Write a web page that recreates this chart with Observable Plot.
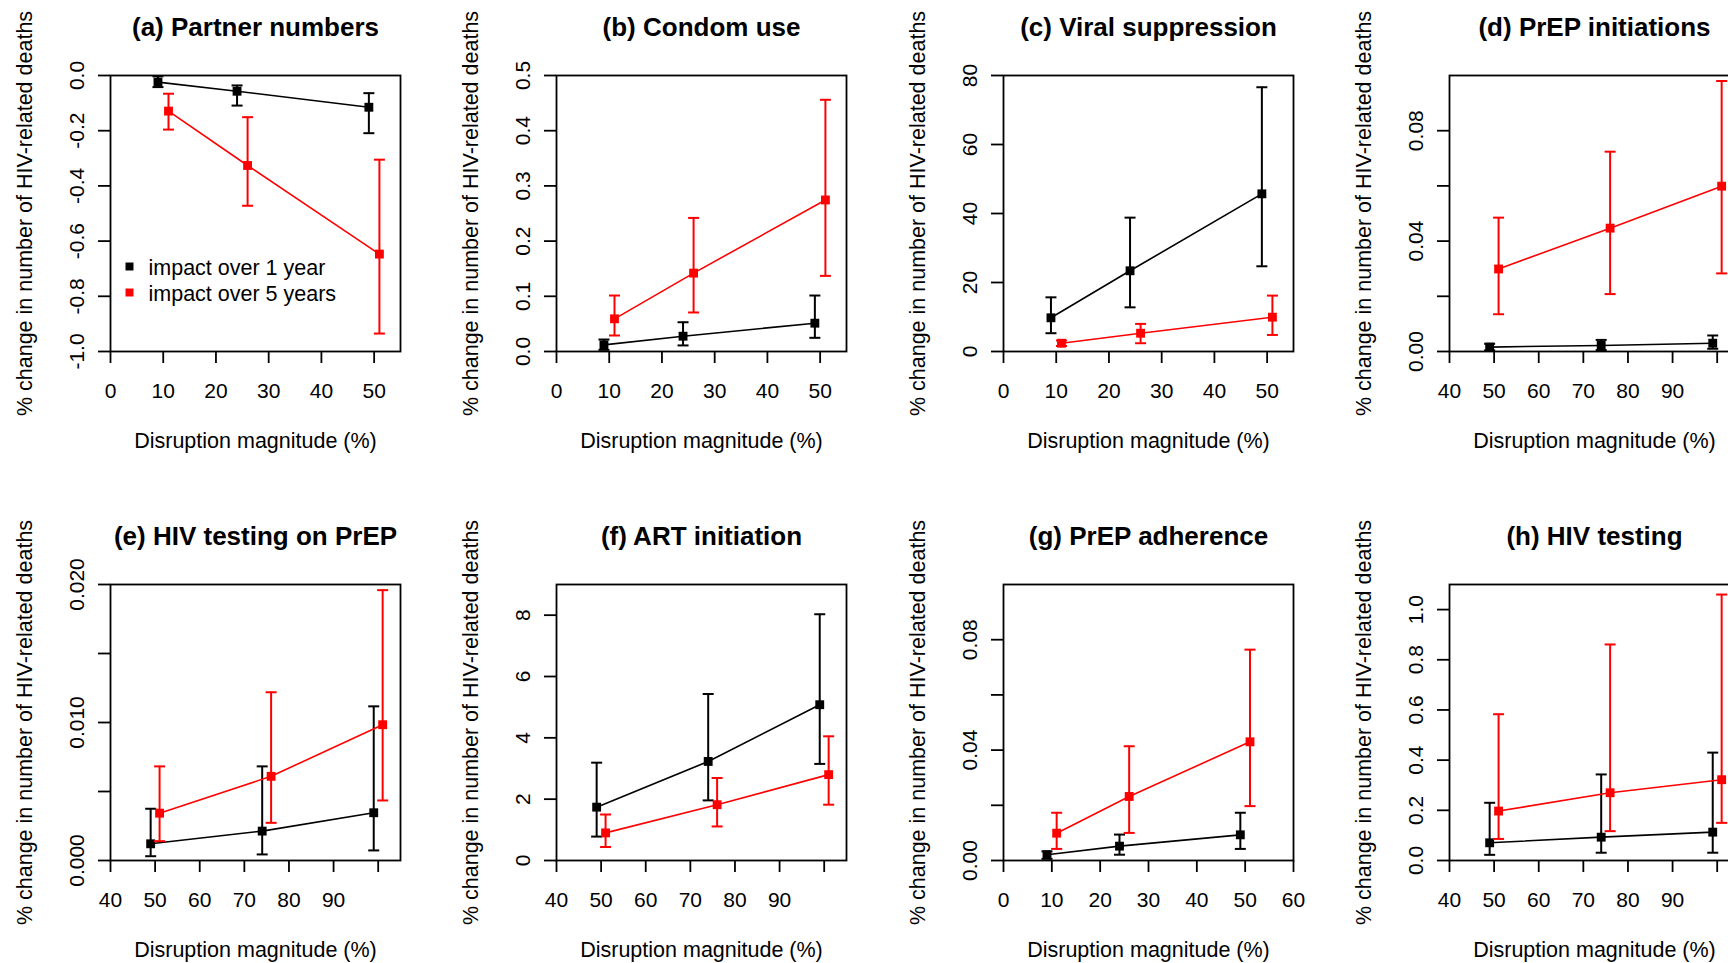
<!DOCTYPE html>
<html><head><meta charset="utf-8">
<script src="https://cdn.jsdelivr.net/npm/d3@7"></script>
<script src="https://cdn.jsdelivr.net/npm/@observablehq/plot@0.6"></script>
<style>
html,body{margin:0;padding:0;background:#fff;overflow:hidden;}
#wrap{position:relative;width:1728px;height:963px;overflow:hidden;background:#fff;}
.panel{position:absolute;width:446px;height:508px;}
</style></head><body><div id="wrap"></div>
<script>
// ---- data (mean, lower, upper) for impact over 1 year / 5 years ----
const titles = ["(a) Partner numbers","(b) Condom use","(c) Viral suppression","(d) PrEP initiations",
                "(e) HIV testing on PrEP","(f) ART initiation","(g) PrEP adherence","(h) HIV testing"];
const seriesNames = ["impact over 1 year","impact over 5 years"];
const xLabelText = "Disruption magnitude (%)";
const yLabelText = "% change in number of HIV-related deaths";

const xLow1yr = [9,24,49], xLow5yr = [11,26,51];
const xHigh1yr = [49,74,99], xHigh5yr = [51,76,101];

const a1yr = [[-0.024,-0.042,-0.003],[-0.057,-0.109,-0.036],[-0.115,-0.209,-0.064]];
const a5yr = [[-0.129,-0.196,-0.066],[-0.326,-0.472,-0.151],[-0.647,-0.935,-0.305]];
const b1yr = [[0.012,0.003,0.0217],[0.0277,0.011,0.053],[0.0513,0.0248,0.1014]];
const b5yr = [[0.0592,0.029,0.1014],[0.142,0.0707,0.242],[0.2745,0.137,0.456]];
const c1yr = [[9.77,5.3,15.7],[23.4,12.8,38.8],[45.7,24.7,76.6]];
const c5yr = [[2.4,1.6,3.2],[5.3,2.4,8.0],[9.95,4.8,16.2]];
const d1yr = [[0.0016,0.0004,0.0028],[0.0022,0.0005,0.0042],[0.003,0.001,0.0058]];
const d5yr = [[0.0299,0.0135,0.0485],[0.0447,0.0208,0.0724],[0.0599,0.0283,0.098]];
const e1yr = [[0.00121,0.00031,0.00375],[0.00213,0.00044,0.00682],[0.00346,0.00073,0.01117]];
const e5yr = [[0.00343,0.0014,0.00682],[0.0061,0.00273,0.01219],[0.00984,0.00435,0.01959]];
const f1yr = [[1.74,0.78,3.19],[3.23,1.96,5.43],[5.08,3.15,8.03]];
const f5yr = [[0.90,0.44,1.50],[1.82,1.11,2.69],[2.80,1.82,4.05]];
const g1yr = [[0.0021,0.0006,0.0033],[0.0052,0.0021,0.0094],[0.0093,0.0042,0.0173]];
const g5yr = [[0.0099,0.0042,0.0173],[0.0232,0.0100,0.0414],[0.0430,0.0197,0.0764]];
const h1yr = [[0.0705,0.0226,0.23],[0.093,0.031,0.343],[0.113,0.031,0.43]];
const h5yr = [[0.197,0.086,0.583],[0.27,0.117,0.861],[0.322,0.150,1.06]];

// ---- axis ticks ----
const xTicksLow = [0,10,20,30,40,50], xTicksG = [0,10,20,30,40,50,60];
const xTicksHigh = [40,50,60,70,80,90,100], xLabelsHigh = [40,50,60,70,80,90];
const yTicksA = [0,-0.2,-0.4,-0.6,-0.8,-1.0];
const yTicksB = [0,0.1,0.2,0.3,0.4,0.5];
const yTicksC = [0,20,40,60,80];
const yTicksD = [0,0.02,0.04,0.06,0.08], yLabelsD = [0,0.04,0.08];
const yTicksE = [0,0.005,0.01,0.015,0.02], yLabelsE = [0,0.01,0.02];
const yTicksF = [0,2,4,6,8];
const yTicksH = [0,0.2,0.4,0.6,0.8,1.0];

const colors = ["black","red"];

const has = (arr, v) => arr.some(a => Math.abs(a - v) < 1e-9);

const panels = [
  {s:[a1yr,a5yr], xs:[xLow1yr,xLow5yr], xd:[0,55], xt:xTicksLow, xl:xTicksLow, yd:[-1,0], yt:yTicksA, yl:yTicksA, dec:1, legend:true},
  {s:[b1yr,b5yr], xs:[xLow1yr,xLow5yr], xd:[0,55], xt:xTicksLow, xl:xTicksLow, yd:[0,0.5], yt:yTicksB, yl:yTicksB, dec:1},
  {s:[c1yr,c5yr], xs:[xLow1yr,xLow5yr], xd:[0,55], xt:xTicksLow, xl:xTicksLow, yd:[0,80], yt:yTicksC, yl:yTicksC, dec:0},
  {s:[d1yr,d5yr], xs:[xHigh1yr,xHigh5yr], xd:[40,105], xt:xTicksHigh, xl:xLabelsHigh, yd:[0,0.1], yt:yTicksD, yl:yLabelsD, dec:2},
  {s:[e1yr,e5yr], xs:[xHigh1yr,xHigh5yr], xd:[40,105], xt:xTicksHigh, xl:xLabelsHigh, yd:[0,0.02], yt:yTicksE, yl:yLabelsE, dec:3},
  {s:[f1yr,f5yr], xs:[xHigh1yr,xHigh5yr], xd:[40,105], xt:xTicksHigh, xl:xLabelsHigh, yd:[0,9], yt:yTicksF, yl:yTicksF, dec:0},
  {s:[g1yr,g5yr], xs:[xLow1yr,xLow5yr], xd:[0,60], xt:xTicksG, xl:xTicksG, yd:[0,0.1], yt:yTicksD, yl:yLabelsD, dec:2},
  {s:[h1yr,h5yr], xs:[xHigh1yr,xHigh5yr], xd:[40,105], xt:xTicksHigh, xl:xLabelsHigh, yd:[0,1.1], yt:yTicksH, yl:yTicksH, dec:1}
];

const capSymbol = {draw(ctx){ ctx.moveTo(-5.5,0); ctx.lineTo(5.5,0); }};
const wrap = document.getElementById("wrap");

panels.forEach((p, k) => {
  const seriesMarks = [];
  p.s.forEach((vals, si) => {
    const data = vals.map((v, i) => ({x: p.xs[si][i], m: v[0], lo: v[1], hi: v[2]}));
    const c = colors[si];
    seriesMarks.push(
      Plot.line(data, {x:"x", y:"m", stroke:c, strokeWidth:1.6, clip:true}),
      Plot.ruleX(data, {x:"x", y1:"lo", y2:"hi", stroke:c, strokeWidth:2, clip:true}),
      Plot.dot(data, {x:"x", y:"lo", symbol:capSymbol, stroke:c, fill:"none", strokeWidth:2, r:3, clip:true}),
      Plot.dot(data, {x:"x", y:"hi", symbol:capSymbol, stroke:c, fill:"none", strokeWidth:2, r:3, clip:true}),
      Plot.dot(data, {x:"x", y:"m", symbol:"square", fill:c, stroke:"none", r:5, clip:true})
    );
  });
  const legendMarks = p.legend ? [
    Plot.dot([seriesNames[0]], {frameAnchor:"top-left", dx:19, dy:191, symbol:"square", fill:colors[0], r:4.5}),
    Plot.dot([seriesNames[1]], {frameAnchor:"top-left", dx:19, dy:217, symbol:"square", fill:colors[1], r:4.5}),
    Plot.text([seriesNames[0]], {frameAnchor:"top-left", dx:38, dy:193, textAnchor:"start", lineAnchor:"middle", fontSize:21.5}),
    Plot.text([seriesNames[1]], {frameAnchor:"top-left", dx:38, dy:219, textAnchor:"start", lineAnchor:"middle", fontSize:21.5})
  ] : [];
  const chart = Plot.plot({
    width: 446, height: 508,
    marginLeft: 110, marginRight: 46, marginTop: 75, marginBottom: 157,
    style: {fontFamily: "'Liberation Sans', Arial, sans-serif", fontSize: "21px", color: "black", background: "transparent"},
    x: {domain: p.xd},
    y: {domain: p.yd},
    marks: [
      Plot.axisX({ticks: p.xt, tickSize: 12, tickPadding: 20, strokeWidth: 1.8, label: null, fontSize: 21,
                  tickFormat: d => has(p.xl, d) ? String(d) : ""}),
      Plot.axisY({ticks: p.yt, tickSize: 12, tickPadding: 15, tickRotate: -90, strokeWidth: 1.8, label: null, fontSize: 21,
                  tickFormat: d => has(p.yl, d) ? (Math.abs(d) < 1e-12 ? 0 : d).toFixed(p.dec) : ""}),
      Plot.frame({stroke: "black", strokeWidth: 1.8}),
      Plot.text([titles[k]], {frameAnchor: "top", dy: -40, textAnchor: "middle", lineAnchor: "bottom", fontWeight: "bold", fontSize: 26}),
      Plot.text([xLabelText], {frameAnchor: "bottom", dy: 96, textAnchor: "middle", lineAnchor: "bottom", fontSize: 21.5}),
      Plot.text([yLabelText], {frameAnchor: "left", dx: -79, rotate: -90, textAnchor: "middle", lineAnchor: "bottom", fontSize: 21.5}),
      ...seriesMarks,
      ...legendMarks
    ]
  });
  const div = document.createElement("div");
  div.className = "panel";
  div.style.left = ((k % 4) * 446.4) + "px";
  div.style.top = (Math.floor(k / 4) * 508.5) + "px";
  div.appendChild(chart);
  wrap.appendChild(div);
});
</script></body></html>
